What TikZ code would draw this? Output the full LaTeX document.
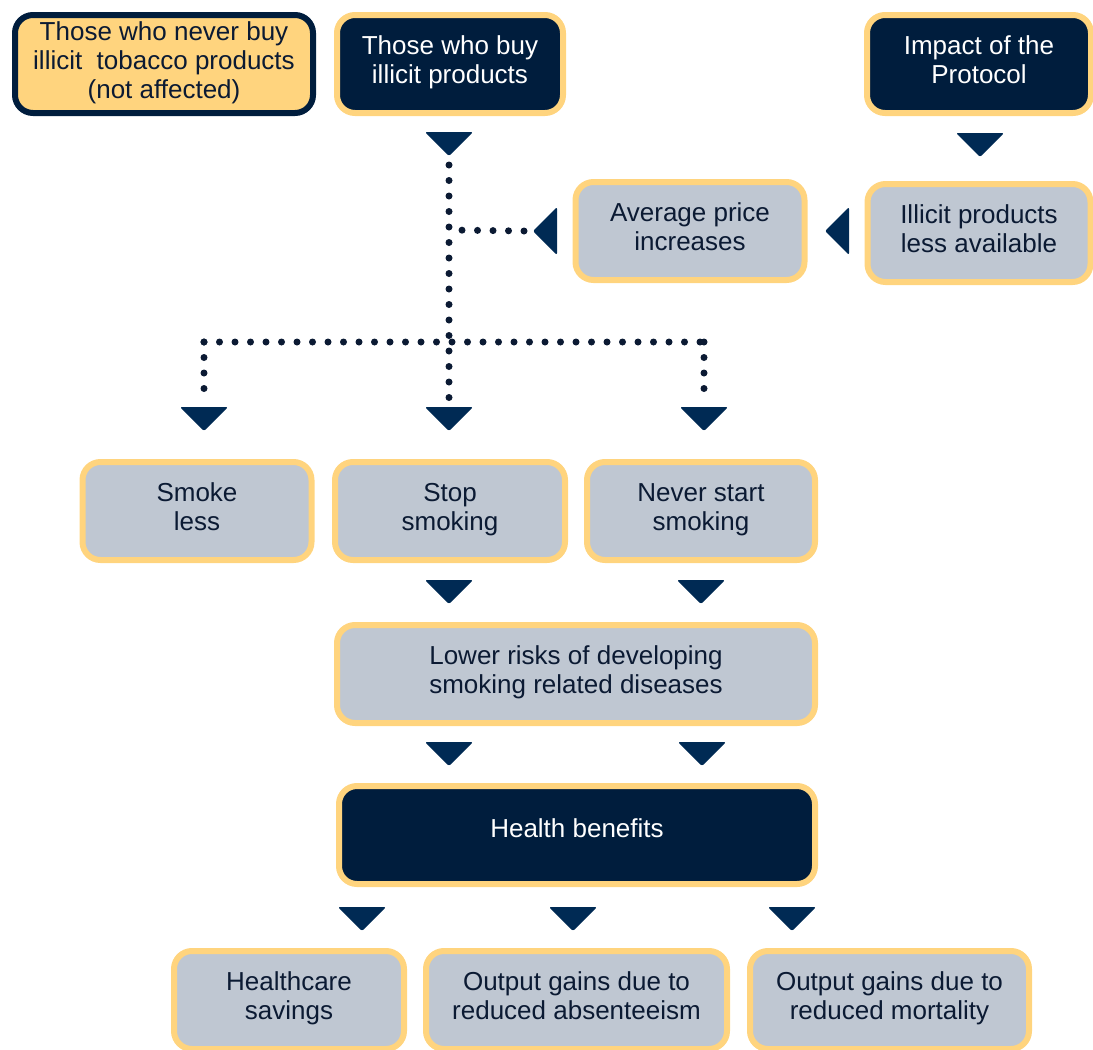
\documentclass[tikz,border=0pt]{standalone}
\usepackage{fontspec}
\setmainfont{Liberation Sans}
\usetikzlibrary{shapes.geometric}
\definecolor{navy}{HTML}{001D3D}
\definecolor{arrownavy}{HTML}{002A54}
\definecolor{gold}{HTML}{FFD47E}
\definecolor{slate}{HTML}{BFC7D2}
\definecolor{ink}{HTML}{0B1A33}
\begin{document}
\begin{tikzpicture}[x=1pt, y=-1pt,
        box/.style={draw=gold, line width=6pt, rounded corners=18pt, align=center,
            inner sep=0pt, minimum height=98pt, font=\fontsize{26}{29}\selectfont,
            execute at begin node=\strut, execute at end node=\strut},
        greybox/.style={box, fill=slate, text=ink},
        darkbox/.style={box, fill=navy, text=white},
        tri/.style={isosceles triangle, isosceles triangle apex angle=90, fill=arrownavy,
            minimum height=24pt, inner sep=0pt, outer sep=0pt, rounded corners=2pt},
        tipdown/.style={tri, shape border rotate=270, anchor=apex},
        tipleft/.style={tri, shape border rotate=180, anchor=apex},
        dots/.style={draw=ink, line width=7pt, line cap=round, dash pattern=on 0pt off 15.5pt}]
    \useasboundingbox (0,0) rectangle (1093,1050);

    % top row
    \node[box, fill=gold, draw=navy, text=ink, minimum width=298pt] (never) at (164,64)
        {Those who never buy\\illicit~ tobacco products\\(not affected)};
    \node[darkbox, minimum width=226pt] (buy) at (450,64) {Those who buy\\illicit products};
    \node[darkbox, minimum width=224pt] (impact) at (979,64) {Impact of the\\Protocol};

    \node[tipdown] (tbuy) at (449,156) {};
    \node[tipdown] (timpact) at (980,157) {};

    % price chain
    \node[greybox, minimum width=223pt] (avail) at (979,233) {Illicit products\\less available};
    \node[greybox, minimum width=229pt] (price) at (690,231) {Average price\\increases};
    \node[tipleft] (tavail) at (825,231) {};
    \node[tipleft] (tprice) at (533,231) {};

    % arrows into the behaviour row
    \node[tipdown] (tless) at (204,431) {};
    \node[tipdown] (tstop) at (449,431) {};
    \node[tipdown] (tstart) at (704,431) {};

    \coordinate (jmid) at (449,230);
    \coordinate (jleft) at (204,342);
    \coordinate (jright) at (704,342);
    \coordinate (jtop) at (449,165);

    \draw[dots] (jtop) -- ([yshift=4pt]tstop.lower side);
    \draw[dots] ([xshift=-9pt]tprice.apex) -- (jmid);
    \draw[dots] (jleft) -- (jright);
    \draw[dots] (jleft) -- ([yshift=4pt]tless.lower side);
    \draw[dots] (jright) -- ([yshift=4pt]tstart.lower side);

    % behaviour row
    \node[greybox, minimum width=229pt] (less) at (197,511) {Smoke\\less};
    \node[greybox, minimum width=230pt] (stop) at (450,511) {Stop\\smoking};
    \node[greybox, minimum width=228pt] (start) at (701,511) {Never start\\smoking};

    \node[tipdown] (trisk1) at (449,604) {};
    \node[tipdown] (trisk2) at (701,604) {};

    \node[greybox, minimum width=478pt] (risk) at (576,674) {Lower risks of developing\\smoking related diseases};

    \node[tipdown] (thealth1) at (449,766) {};
    \node[tipdown] (thealth2) at (702,766) {};

    \node[darkbox, minimum width=476pt] (health) at (577,835) {\raisebox{5pt}{Health benefits}};

    \node[tipdown] (tcare) at (362,931) {};
    \node[tipdown] (tabsent) at (573,931) {};
    \node[tipdown] (tmort) at (792,931) {};

    % outcomes
    \node[greybox, minimum width=230pt] (care) at (289,1000) {Healthcare\\savings};
    \node[greybox, minimum width=301pt] (absent) at (576.5,1000) {Output gains due to\\reduced absenteeism};
    \node[greybox, minimum width=279pt] (mort) at (889.5,1000) {Output gains due to\\reduced mortality};
\end{tikzpicture}
\end{document}
